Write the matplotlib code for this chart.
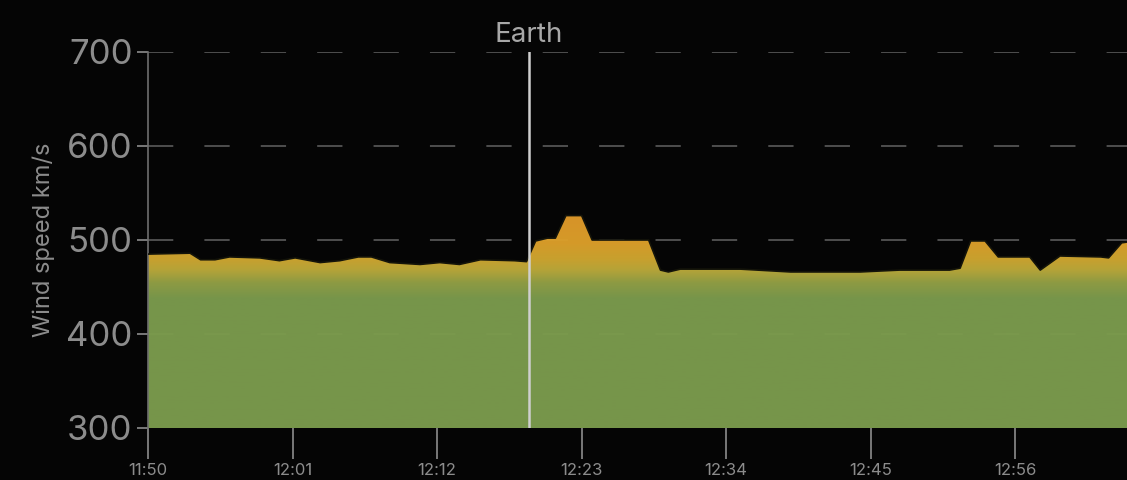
"""Solar wind speed area chart with gradient fill."""

import numpy as np
import matplotlib.pyplot as plt
from matplotlib.colors import LinearSegmentedColormap

# minutes after 11:50 and wind speed (km/s)
minutes = [0, 3.2, 4.0, 5.1, 6.2, 8.5, 10.0, 11.2, 13.1, 14.6, 16.0, 17.0, 18.4,
           20.7, 22.2, 23.7, 25.3, 27.9, 28.8, 29.5, 30.4, 31.0, 31.8, 33.0,
           33.8, 38.1, 39.0, 39.6, 40.5, 45.1, 48.9, 54.2, 57.2, 61.0, 61.8,
           62.6, 63.7, 64.7, 67.1, 67.9, 69.4, 72.5, 73.1, 74.1, 75.1]
speed = [485, 486, 479, 479, 482, 481, 478, 481, 476, 478, 482, 482, 476,
         474, 476, 474, 479, 478, 477, 499, 502, 502, 526, 526,
         500, 500, 468, 466, 469, 469, 466, 466, 468, 468, 470,
         499, 499, 482, 482, 468, 483, 482, 481, 497, 499]

tick_minutes = [0, 11, 22, 33, 44, 55, 66]
tick_labels = ["11:50", "12:01", "12:12", "12:23", "12:34", "12:45", "12:56"]
y_ticks = [300, 400, 500, 600, 700]
earth_minute = 29.0

BG = "#050505"
GREY = "#8c8c8c"

plt.rcParams["font.family"] = ["Inter", "DejaVu Sans"]

fig = plt.figure(figsize=(11.27, 4.8), dpi=100, facecolor=BG)
ax = fig.add_axes([148 / 1127, 52 / 480, (1127 - 148) / 1127, 376 / 480])
ax.set_facecolor(BG)
ax.set_xlim(0, 74.5)
ax.set_ylim(300, 700)

# dashed grid lines
for yv in [400, 500, 600, 700]:
    ax.axhline(yv, color="#4e4e4e", lw=1.4, ls=(0, (13, 16)), zorder=1)

# gradient fill clipped to the area (green below ~445, gold on top)
poly = ax.fill_between(minutes, 300, speed, color="none", lw=0)
cmap = LinearSegmentedColormap.from_list(
    "wind",
    [(0.0, "#7b9b4e"), (0.60, "#7c9b4d"), (0.67, "#92a046"),
     (0.73, "#bca93a"), (0.78, "#cfa630"), (0.85, "#dca02b"), (1.0, "#e0982a")])
grad = np.linspace(0, 1, 256).reshape(-1, 1)
img = ax.imshow(grad, cmap=cmap, origin="lower", aspect="auto",
                extent=[0, 76, 300, 530], zorder=2, alpha=0.97)
img.set_clip_path(poly.get_paths()[0], transform=ax.transData)
ax.plot(minutes, speed, color="#14140a", lw=1.2, zorder=3)

# Earth marker
ax.axvline(earth_minute, color="#cfcfcf", lw=1.8, zorder=4)
ax.text(earth_minute, 704, "Earth", color="#a8a8a8", fontsize=20,
        ha="center", va="bottom")

ax.set_xticks(tick_minutes)
ax.set_xticklabels(tick_labels)
ax.set_yticks(y_ticks)
ax.tick_params(axis="y", colors=GREY, labelsize=25, length=8, width=1.2, pad=3)
ax.tick_params(axis="x", colors=GREY, labelsize=12, length=22, width=1.2, pad=3)
ax.set_ylabel("Wind speed km/s", color=GREY, fontsize=17, labelpad=8)

for side in ["top", "right", "bottom"]:
    ax.spines[side].set_visible(False)
ax.spines["left"].set_color("#6e6e6e")
ax.spines["left"].set_linewidth(1.2)

fig.savefig("out.png", dpi=100, facecolor=BG)
